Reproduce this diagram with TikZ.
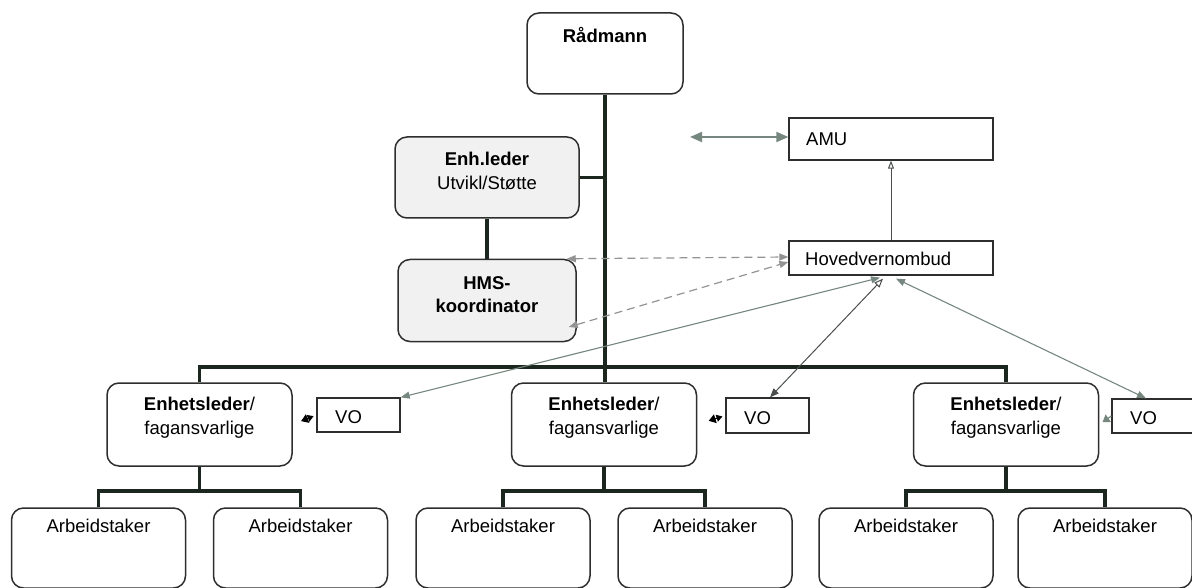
\documentclass[tikz,border=0pt]{standalone}
\usepackage{fontspec}
\setmainfont{Liberation Sans}
\usetikzlibrary{arrows.meta,calc}
\definecolor{thk}{HTML}{1B261F}
\definecolor{garr}{HTML}{76877F}
\definecolor{darr}{HTML}{4A4F4C}
\definecolor{bord}{HTML}{2E2E2E}
\definecolor{gfill}{HTML}{F1F1F1}
\begin{document}
\begin{tikzpicture}[x=1pt,y=-1pt,
  font=\fontsize{18.5}{24}\selectfont,
  rbox/.style={draw=bord,line width=1.5,rounded corners=12,fill=white,inner sep=0,minimum width=#1},
  rbox/.default=175,
  gbox/.style={rbox=#1,fill=gfill},
  sbox/.style={draw=bord,line width=1.3,fill=white,inner sep=0,minimum width=#1},
  sbox/.default=83,
  txt/.style={inner sep=0,align=center},
  ltxt/.style={inner sep=0,anchor=west},
  thkline/.style={draw=thk,line width=3.8},
  garrow/.style={draw=garr,line width=1.1,{Triangle[length=9,width=7]}-{Triangle[length=9,width=7]}},
  darrow/.style={draw=darr,line width=1,{Triangle[open,length=9,width=7]}-{Triangle[length=9,width=7]}},
  dsh/.style={draw=gray!85,line width=1.2,dash pattern=on 8 off 5,{Triangle[length=9,width=7]}-{Triangle[length=9,width=7]}},
  tiny/.style={line width=1.2,{Triangle[length=6,width=7]}-{Triangle[length=7,width=9]}}
]
\useasboundingbox (0,0) rectangle (1192,588);

% top
\node[rbox=156,minimum height=81] (r) at (605,53.5) {};
\node[txt,font=\fontsize{18.5}{24}\selectfont\bfseries] (rt) at (605,35) {Rådmann};

\node[gbox=184,minimum height=81] (el) at (487,177.5) {};
\node[txt] (elt) at (487,171) {\textbf{Enh.leder}\\Utvikl/Støtte};

\node[gbox=178,minimum height=82] (hms) at (487,300.5) {};
\node[txt,font=\fontsize{18.5}{23}\selectfont\bfseries] (hmst) at (487,295) {HMS-\\koordinator};

\node[sbox=204,minimum height=42] (amu) at (891,139) {};
\node[ltxt] (amut) at (806,139) {AMU};
\node[sbox=204,minimum height=34] (hv) at (891,258) {};
\node[ltxt] (hvt) at (805,259) {Hovedvernombud};

% Enhetsleder
\foreach \i/\x in {1/199.5,2/604,3/1006}{
  \node[rbox=185,minimum height=83] (e\i) at (\x,424.5) {};
  \node[txt] (e\i t) at (\x,418) {\textbf{Enhetsleder}/\\fagansvarlige};
}
% VO
\node[sbox,minimum height=34] (vo1) at (358.5,415) {};
\node[ltxt] (vo1t) at (335,417) {VO};
\node[sbox,minimum height=35] (vo2) at (767.5,415.5) {};
\node[ltxt] (vo2t) at (744,418) {VO};
\node[sbox,minimum height=34] (vo3) at (1153.5,416) {};
\node[ltxt] (vo3t) at (1130,418) {VO};

% Arbeidstaker
\foreach \j/\x in {1/98.5,2/300.5,3/503,4/705,5/906,6/1105}{
  \node[rbox=174,minimum height=80] (a\j) at (\x,548) {};
  \node[txt] (a\j t) at (\x,526) {Arbeidstaker};
}

% thick connectors
\coordinate (bar) at (605,367);
\draw[thkline] (r.south) -- (r.south |- e2.north);
\draw[thkline] (e1.north) |- (bar) -| (e3.north);
\draw[thkline] (el.east) -- (el.east -| r.south);
\draw[thkline] (el.south) -- (hms.north);
\foreach \i/\p/\q in {1/1/2,2/3/4,3/5/6}{
  \coordinate (b\i) at ($(e\i.south)+(0,24)$);
  \draw[thkline] (e\i.south) -- (b\i);
  \draw[thkline] (a\p.north) |- (b\i) -| (a\q.north);
}

% arrows
\coordinate (amuL) at (690,137);
\draw[draw=garr,line width=1.8,{Triangle[length=12,width=10]}-{Triangle[length=12,width=10]}] (amuL) -- (amuL -| amu.west);
\draw[darr,line width=1,-{Triangle[open,length=8,width=6]}] (hv.north) -- (amu.south);
\draw[dsh] ([xshift=-10pt]hms.north east) -- ([yshift=1pt]hv.west);
\draw[dsh] ([xshift=-8pt,yshift=-26.5pt]hms.east) -- ([yshift=-4pt]hv.west);
\draw[garrow] ([xshift=-11pt,yshift=-2pt]hv.south) -- (vo1.north east);
\draw[darrow] ([xshift=-8pt,yshift=-3pt]hv.south) -- ([xshift=2.5pt]vo2.north);
\draw[garrow] ([xshift=5pt,yshift=-3pt]hv.south) -- ([xshift=-7.5pt]vo3.north);

% small arrows VO -> Enhetsleder
\draw[tiny,draw=black,fill=black,shorten >=9pt,shorten <=3pt] (vo1.west) -- (e1.east);
\draw[tiny,draw=black,fill=black,shorten >=12pt,shorten <=3pt] (vo2.west) -- (e2.east);
\draw[draw=garr,line width=1.2,-{Triangle[length=7,width=9]},shorten >=4pt] (vo3.west) -- (e3.east);
\end{tikzpicture}
\end{document}
